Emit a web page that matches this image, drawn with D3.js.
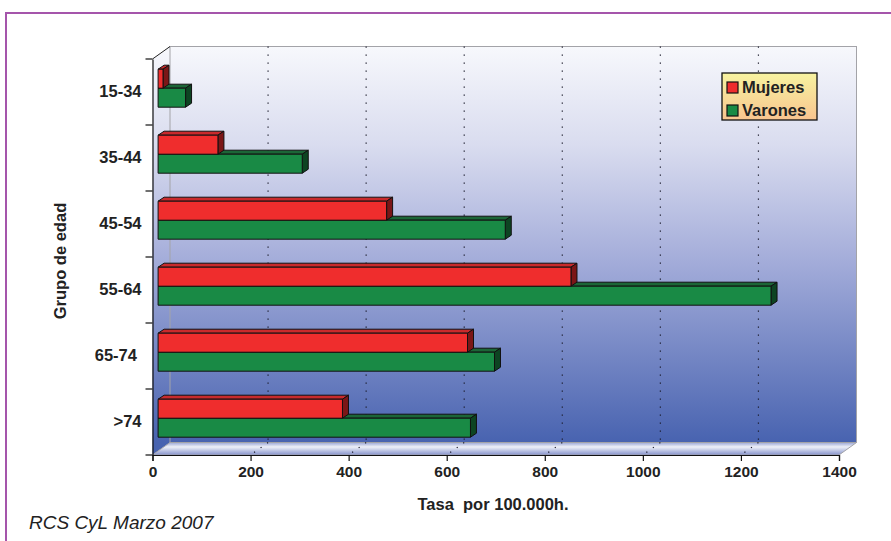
<!DOCTYPE html>
<html>
<head>
<meta charset="utf-8">
<script src="https://cdn.jsdelivr.net/npm/d3@7"></script>
<style>
  html, body { margin: 0; padding: 0; background: #ffffff; }
  svg { display: block; font-family: "Liberation Sans", Arial, sans-serif; }
  text { white-space: pre; }
</style>
</head>
<body>
<svg id="chart" width="891" height="541"></svg>
<script>
// Tasa por 100.000 habitantes, por grupo de edad y sexo
const categories = ["15-34", "35-44", "45-54", "55-64", "65-74 ", ">74"];
const mujeres = [10, 122, 466, 842, 631, 376];
const varones = [56, 294, 708, 1250, 686, 637];
const xTicks = [0, 200, 400, 600, 800, 1000, 1200, 1400];
const seriesNames = ["Mujeres", "Varones"];

(function () {
const svg = d3.select("#chart");
const defs = svg.append("defs");

// 3D box geometry: depth of the chart floor/walls and of the bars
const depth = { dx: 17.5, dy: -12.5 };
const barPlane = { dx: 5.6, dy: -3.8 };
const barDepth = { dx: 6, dy: -4 };
const barH = 19;

const x = d3.scaleLinear().domain([0, 1400]).range([152.5, 839]);
const y = d3.scaleBand().domain(categories).range([59, 455]);

const pLeft = x(0), pRight = x(1400), pTop = y.range()[0], pBottom = y.range()[1];

// frame around the page
svg.append("path")
  .attr("d", `M6,541 L6,13 L891,13`)
  .attr("fill", "none").attr("stroke", "#a555ab").attr("stroke-width", 2);

// gradients
const wallGrad = defs.append("linearGradient").attr("id", "wall")
  .attr("gradientUnits", "userSpaceOnUse")
  .attr("x1", 0).attr("x2", 0).attr("y1", pTop + depth.dy).attr("y2", pBottom + depth.dy);
wallGrad.append("stop").attr("offset", 0).attr("stop-color", "#f7f8fc");
wallGrad.append("stop").attr("offset", 0.25).attr("stop-color", "#d9dcef");
wallGrad.append("stop").attr("offset", 0.55).attr("stop-color", "#a2abd9");
wallGrad.append("stop").attr("offset", 1).attr("stop-color", "#4863b0");

const floorGrad = defs.append("linearGradient").attr("id", "floor")
  .attr("x1", 0).attr("x2", 0).attr("y1", 0).attr("y2", 1);
floorGrad.append("stop").attr("offset", 0).attr("stop-color", "#9aa6d6");
floorGrad.append("stop").attr("offset", 0.35).attr("stop-color", "#eef0f8");
floorGrad.append("stop").attr("offset", 1).attr("stop-color", "#8592cc");

const legGrad = defs.append("linearGradient").attr("id", "leg")
  .attr("x1", 0).attr("x2", 0).attr("y1", 0).attr("y2", 1);
legGrad.append("stop").attr("offset", 0).attr("stop-color", "#f7f3a0");
legGrad.append("stop").attr("offset", 1).attr("stop-color", "#f8c48f");

const pts = a => a.map(p => p.join(",")).join(" ");

// side wall
svg.append("polygon")
  .attr("points", pts([[pLeft, pTop], [pLeft + depth.dx, pTop + depth.dy],
                       [pLeft + depth.dx, pBottom + depth.dy], [pLeft, pBottom]]))
  .attr("fill", "url(#wall)");
// back wall
svg.append("rect")
  .attr("x", pLeft + depth.dx).attr("y", pTop + depth.dy)
  .attr("width", pRight - pLeft).attr("height", pBottom - pTop)
  .attr("fill", "url(#wall)")
  .attr("stroke", "#a3a3a8").attr("stroke-width", 1);
// floor
svg.append("polygon")
  .attr("points", pts([[pLeft, pBottom], [pLeft + depth.dx, pBottom + depth.dy],
                       [pRight + depth.dx, pBottom + depth.dy], [pRight, pBottom]]))
  .attr("fill", "url(#floor)")
  .attr("stroke", "#a3a3a8").attr("stroke-width", 1);

// dotted gridlines on the back wall and floor
const grid = svg.append("g");
xTicks.filter(t => t > 0 && t < 1400).forEach(t => {
  const gxp = x(t) + depth.dx;
  grid.append("line")
    .attr("x1", gxp).attr("x2", gxp)
    .attr("y1", pTop + depth.dy).attr("y2", pBottom + depth.dy)
    .attr("stroke", "#1a1a2a").attr("stroke-width", 1.2)
    .attr("stroke-dasharray", "1.2,6.8");
  grid.append("line")
    .attr("x1", gxp).attr("y1", pBottom + depth.dy)
    .attr("x2", x(t)).attr("y2", pBottom)
    .attr("stroke", "#1a1a2a").attr("stroke-width", 1.2)
    .attr("stroke-dasharray", "1.2,6.8");
});

// top edge of side wall
svg.append("line")
  .attr("x1", pLeft).attr("y1", pTop).attr("x2", pLeft + depth.dx).attr("y2", pTop + depth.dy)
  .attr("stroke", "#222").attr("stroke-width", 1);

// bars
const colors = {
  Mujeres: { front: "#ef2d2d", top: "#c92a2c", side: "#7b1617" },
  Varones: { front: "#198a45", top: "#1c6637", side: "#0d4422" }
};

function drawBar(g, cat, value, offset, c) {
  const x0 = x(0) + barPlane.dx;
  const x1 = x(value) + barPlane.dx;
  const cy = y(cat) + y.bandwidth() / 2 + barPlane.dy;
  const y0 = cy + offset;
  const y1 = y0 + barH;
  const bx = barDepth.dx, by = barDepth.dy;
  const bg = g.append("g").attr("stroke", "#111").attr("stroke-width", 1).attr("stroke-linejoin", "round");
  bg.append("polygon")
    .attr("points", pts([[x0, y0], [x0 + bx, y0 + by], [x1 + bx, y0 + by], [x1, y0]]))
    .attr("fill", c.top);
  bg.append("polygon")
    .attr("points", pts([[x1, y0], [x1 + bx, y0 + by], [x1 + bx, y1 + by], [x1, y1]]))
    .attr("fill", c.side);
  bg.append("rect")
    .attr("x", x0).attr("y", y0).attr("width", x1 - x0).attr("height", barH)
    .attr("fill", c.front);
}

const bars = svg.append("g");
categories.forEach((cat, i) => {
  drawBar(bars, cat, varones[i], 0, colors.Varones);
  drawBar(bars, cat, mujeres[i], -barH, colors.Mujeres);
});

// axes
const xAxis = d3.axisBottom(x).tickValues(xTicks).tickFormat(d3.format("d"))
  .tickSize(6).tickPadding(5);
const gx = svg.append("g").attr("transform", `translate(0,${pBottom})`).call(xAxis);
gx.select(".domain").attr("stroke", "#111").attr("stroke-width", 1.2);
gx.selectAll(".tick line").attr("stroke", "#111").attr("stroke-width", 1.2);
gx.selectAll(".tick text")
  .attr("font-size", 15.5).attr("font-weight", "bold").attr("fill", "#222")
  .attr("font-family", "'Liberation Sans', Arial, sans-serif");

const yAxis = d3.axisLeft(y).tickSize(0).tickPadding(11);
const gy = svg.append("g").attr("transform", `translate(${pLeft},0)`).call(yAxis);
gy.select(".domain").attr("stroke", "#111").attr("stroke-width", 1.2);
gy.selectAll(".tick text")
  .attr("font-size", 16.5).attr("font-weight", "bold").attr("fill", "#222")
  .attr("font-family", "'Liberation Sans', Arial, sans-serif");
// tick marks at the category boundaries
const boundaries = categories.map(c => y(c)).concat([pBottom]);
svg.append("g").selectAll("line").data(boundaries).join("line")
  .attr("x1", pLeft - 7).attr("x2", pLeft)
  .attr("y1", d => d).attr("y2", d => d)
  .attr("stroke", "#111").attr("stroke-width", 1.2);

// axis titles
svg.append("text")
  .attr("x", 493).attr("y", 510)
  .attr("text-anchor", "middle")
  .attr("font-size", 16.5).attr("font-weight", "bold").attr("fill", "#222")
  .text("Tasa  por 100.000h.");
svg.append("text")
  .attr("transform", "translate(66,261) rotate(-90)")
  .attr("text-anchor", "middle")
  .attr("font-size", 16.5).attr("font-weight", "bold").attr("fill", "#222")
  .text("Grupo de edad");

// legend
const leg = svg.append("g").attr("transform", "translate(722,73)");
leg.append("rect").attr("width", 95).attr("height", 47)
  .attr("fill", "url(#leg)").attr("stroke", "#111").attr("stroke-width", 1.3);
seriesNames.forEach((name, i) => {
  const row = leg.append("g").attr("transform", `translate(5,${9 + i * 23})`);
  row.append("rect").attr("width", 11).attr("height", 11)
    .attr("fill", colors[name].front).attr("stroke", "#111").attr("stroke-width", 1.2);
  row.append("text").attr("x", 15).attr("y", 11)
    .attr("font-size", 16.5).attr("font-weight", "bold").attr("fill", "#222")
    .text(name);
});

// source note
svg.append("text")
  .attr("x", 29).attr("y", 529)
  .attr("font-size", 19).attr("font-style", "italic").attr("fill", "#222")
  .text("RCS CyL Marzo 2007");
})();
</script>
</body>
</html>
